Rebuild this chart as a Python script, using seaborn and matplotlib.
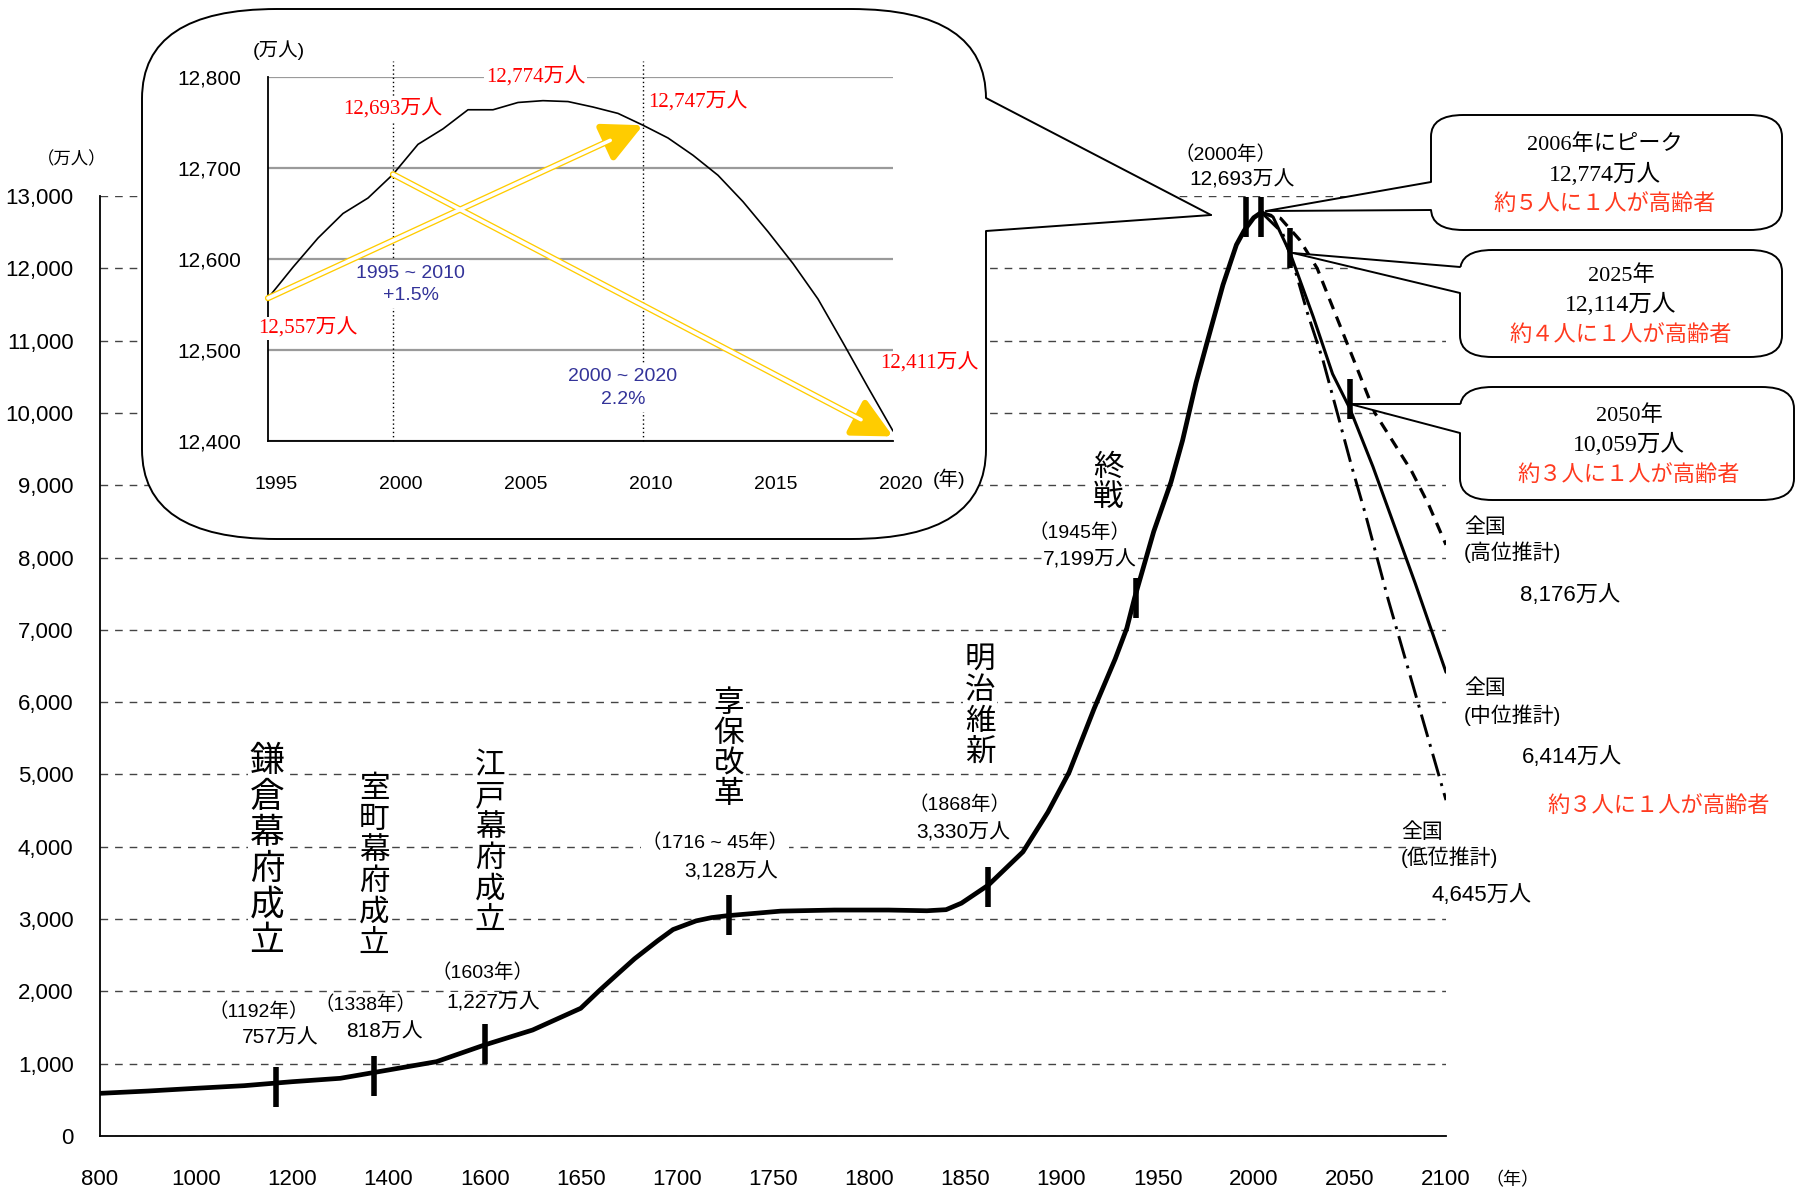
import numpy as np
import pandas as pd
import matplotlib
matplotlib.use("Agg")
import matplotlib.pyplot as plt
import seaborn as sns
from matplotlib import font_manager
from matplotlib.patches import FancyBboxPatch, Polygon
from matplotlib.lines import Line2D
from matplotlib.ticker import FuncFormatter, NullLocator, MultipleLocator
from matplotlib.transforms import ScaledTranslation

# ---------------- data ----------------
tick_years = [800, 1000, 1200, 1400, 1600, 1650, 1700, 1750, 1800, 1850,
              1900, 1950, 2000, 2050, 2100]
y_ticks = list(range(0, 13001, 1000))

hist_years = [800, 900, 1000, 1100, 1200, 1300, 1400, 1500, 1600, 1625, 1650,
              1660, 1670, 1678, 1690, 1698, 1710, 1718, 1726, 1754, 1782, 1810,
              1830, 1840, 1848, 1862, 1880, 1893, 1904, 1917, 1928, 1934, 1938,
              1948, 1957, 1963, 1970, 1976, 1984, 1991, 1995, 2000, 2004]
hist_pop = [590, 622, 660, 696, 751, 798, 913, 1028, 1259, 1466, 1766,
            2019, 2260, 2451, 2700, 2855, 2975, 3020, 3046, 3110, 3125, 3125,
            3115, 3130, 3220, 3470, 3930, 4480, 5030, 5910, 6600, 7022, 7437,
            8360, 9046, 9620, 10417, 11000, 11770, 12325, 12520, 12700, 12774]

high_years = [2004, 2014, 2024, 2033, 2048, 2063, 2082, 2091, 2100]
high_pop = [12774, 12690, 12390, 12000, 11000, 10000, 9200, 8730, 8176]
mid_years = [2004, 2010, 2019, 2031, 2041, 2050, 2062, 2084, 2100]
mid_pop = [12774, 12713, 12205, 11326, 10540, 10060, 9257, 7643, 6414]
low_years = [2004, 2015, 2021, 2028, 2036, 2044, 2051, 2058, 2070, 2083, 2100]
low_pop = [12774, 12488, 12023, 11377, 10731, 9947, 9255, 8610, 7413, 6214, 4645]

marker_years = [1167, 1369, 1600, 1727, 1862, 1939, 1996, 2004, 2019, 2050]
marker_pop = [680, 825, 1272, 3060, 3450, 7437, 12714, 12714, 12277, 10192]

inset_years = list(range(1995, 2021))
inset_pop = [12557, 12591, 12623, 12650, 12667, 12693, 12726, 12743, 12764, 12764,
             12772, 12774, 12773, 12767, 12760, 12747, 12733, 12714, 12692, 12663,
             12630, 12595, 12556, 12508, 12459, 12411]
inset_yticks = [12400, 12500, 12600, 12700, 12800]
inset_xticks = [1995, 2000, 2005, 2010, 2015, 2020]
arrow_up = ((1995, 12557), (2010, 12747))
arrow_down = ((2000, 12693), (2020, 12405))

events = ["鎌倉幕府成立", "室町幕府成立", "江戸幕府成立", "享保改革", "明治維新", "終戦"]
note_years = ["（1192年）", "（1338年）", "（1603年）", "（1716 ~ 45年）", "（1868年）",
              "（1945年）", "（2000年）"]
note_pops = ["757万人", "818万人", "1,227万人", "3,128万人", "3,330万人", "7,199万人",
             "12,693万人"]
callouts = [("2006年にピーク", "12,774万人", "約５人に１人が高齢者"),
            ("2025年", "12,114万人", "約４人に１人が高齢者"),
            ("2050年", "10,059万人", "約３人に１人が高齢者")]
proj_names = ["(高位推計)", "(中位推計)", "(低位推計)"]
proj_ends = ["8,176万人", "6,414万人", "4,645万人"]

# ---------------- style ----------------
sns.set_theme(style="white")
avail = {f.name for f in font_manager.fontManager.ttflist}
NARROW = "Liberation Sans Narrow" if "Liberation Sans Narrow" in avail else "Liberation Sans"
JP = "Noto Sans CJK JP"
SANS_N = [NARROW, JP]
SANS = ["Liberation Sans", JP]
SERIF = ["Liberation Serif", JP]
plt.rcParams["font.family"] = SANS_N
plt.rcParams.update({"text.color": "black", "xtick.color": "black",
                     "ytick.color": "black", "axes.edgecolor": "black",
                     "axes.unicode_minus": False})

W, H = 1797, 1195
fig = plt.figure(figsize=(W / 100, H / 100), dpi=100)
fig.patch.set_facecolor("white")


def fx(x):
    return x / W


def fy(y):
    return 1 - y / H


WHITE = dict(facecolor="white", edgecolor="none", pad=1.0)

# ---------------- main axes ----------------
ax = fig.add_axes([fx(100), fy(1136), (1446 - 100) / W, (1136 - 196) / H])
ax.set_facecolor("white")
ty = np.array(tick_years, float)
ti = np.arange(len(ty), dtype=float)


def fwd(x):
    x = np.asarray(x, float)
    out = np.interp(x, ty, ti)
    out = np.where(x < ty[0], (x - ty[0]) / 200.0, out)
    return np.where(x > ty[-1], ti[-1] + (x - ty[-1]) / 50.0, out)


def inv(u):
    u = np.asarray(u, float)
    out = np.interp(u, ti, ty)
    out = np.where(u < 0, ty[0] + u * 200.0, out)
    return np.where(u > ti[-1], ty[-1] + (u - ti[-1]) * 50.0, out)


ax.set_xscale("function", functions=(fwd, inv))

sns.lineplot(x=hist_years, y=hist_pop, ax=ax, color="black", linewidth=3.4,
             zorder=4, sort=False)
ax.lines[-1].set_solid_joinstyle("round")
sns.lineplot(x=mid_years, y=mid_pop, ax=ax, color="black", linewidth=2.2,
             zorder=4, sort=False)
sns.lineplot(x=high_years, y=high_pop, ax=ax, color="black", linewidth=2.3,
             zorder=4, sort=False)
ax.lines[-1].set_linestyle((0, (3.5, 2.5)))
sns.lineplot(x=low_years, y=low_pop, ax=ax, color="black", linewidth=2.1,
             zorder=4, sort=False)
ax.lines[-1].set_linestyle((0, (8, 2.5, 1, 2.5)))
ax.plot(marker_years, marker_pop, linestyle="none", marker="|", markersize=29,
        markeredgewidth=4, color="black", zorder=5)

ax.set_xlim(800, 2100)
ax.set_ylim(0, 13000)
ax.set_xticks(tick_years)
ax.set_xticklabels([str(t) for t in tick_years])
ax.xaxis.set_minor_locator(NullLocator())
ax.set_yticks(y_ticks)
ax.yaxis.set_major_formatter(FuncFormatter(lambda v, p: f"{int(v):,}"))
ax.tick_params(axis="x", direction="in", length=7, width=1.2, pad=24, labelsize=16)
ax.tick_params(axis="y", direction="out", length=4, width=1.2, pad=15, labelsize=16)
ax.set_xlabel("")
ax.set_ylabel("")
for s in ("top", "right"):
    ax.spines[s].set_visible(False)
for s in ("left", "bottom"):
    ax.spines[s].set_color("black")
    ax.spines[s].set_linewidth(1.3)
ax.yaxis.grid(True, color="#444444", linewidth=1.0, linestyle=(0, (5.5, 5)))
ax.xaxis.grid(False)
ax.set_axisbelow(True)

fig.text(fx(72), fy(159), "（万人）", fontsize=12.5, family=[JP], ha="center", va="center")
fig.text(fx(1512), fy(1180), "（年）", fontsize=13, family=[JP], ha="center", va="center")

# vertical event labels
ev_layout = [(267, 743, 36, 25), (374, 773, 31, 22), (490, 750, 31, 22),
             (729, 688, 30.5, 22), (980, 644, 31, 22), (1108, 452, 30, 22)]
for name, (xc, ytop, pitch, size) in zip(events, ev_layout):
    for i, ch in enumerate(name):
        fig.text(fx(xc), fy(ytop + pitch * (i + 0.5)), ch, fontsize=size,
                 family=[JP], ha="center", va="center", bbox=WHITE, zorder=3)

note_layout = [((259, 1012), (280, 1038)), ((366, 1005), (384, 1032)),
               ((482, 973), (493, 1003)), ((715, 843), (731, 872)),
               ((959, 805), (963, 833)), ((1080, 533), (1090, 560)),
               ((1225, 155), (1242, 180))]
for ny, npop, ((x1, y1), (x2, y2)) in zip(note_years, note_pops, note_layout):
    fig.text(fx(x1), fy(y1), ny, fontsize=14, family=SANS_N, ha="center",
             va="center", bbox=WHITE, zorder=3)
    fig.text(fx(x2), fy(y2), npop, fontsize=15, family=SANS_N, ha="center",
             va="center", bbox=WHITE, zorder=3)

# projection end labels
proj_layout = [((1464, 527), (1464, 552), (1520, 595)),
               ((1464, 688), (1464, 715), (1522, 758)),
               ((1401, 832), (1401, 857), (1431, 895))]
for nm, end, (p1, p2, p3) in zip(proj_names, proj_ends, proj_layout):
    fig.text(fx(p1[0]), fy(p1[1]), "全国", fontsize=15, family=[JP], ha="left", va="center")
    fig.text(fx(p2[0]), fy(p2[1]), nm, fontsize=15, family=SANS_N, ha="left", va="center")
    fig.text(fx(p3[0]), fy(p3[1]), end, fontsize=16, family=SANS_N, ha="left", va="center")
ORANGE = "#FF3A1F"
fig.text(fx(1547), fy(805), "約３人に１人が高齢者", fontsize=16, family=[JP], color=ORANGE,
         ha="left", va="center")


# ---------------- callout bubbles ----------------
def bubble(x0, y0, x1, y1, r, tip, base1, base2, side, z=2):
    box = FancyBboxPatch((fx(x0), fy(y1)), fx(x1) - fx(x0), fy(y0) - fy(y1),
                         boxstyle=f"round,pad=0,rounding_size={r}",
                         transform=fig.transFigure, facecolor="white",
                         edgecolor="black", linewidth=1.4, zorder=z)
    fig.add_artist(box)
    d = -5 if side == "right" else 5
    pts = [tip, base1, (base1[0] + d, base1[1]), (base2[0] + d, base2[1]), base2]
    poly = Polygon([(fx(a), fy(b)) for a, b in pts], closed=True,
                   transform=fig.transFigure, facecolor="white",
                   edgecolor="none", zorder=z + 0.1)
    fig.add_artist(poly)
    for b in (base1, base2):
        fig.add_artist(Line2D([fx(tip[0]), fx(b[0])], [fy(tip[1]), fy(b[1])],
                              transform=fig.transFigure, color="black",
                              linewidth=1.4, zorder=z + 0.2))


bubble(142, 9, 986, 539, 0.075, (1211, 215), (986, 98), (986, 231), "right")
bubble(1431, 115, 1782, 230, 0.018, (1266, 211), (1431, 182), (1431, 210), "left")
bubble(1460, 250, 1782, 357, 0.018, (1293, 253), (1460, 267), (1460, 293), "left")
bubble(1460, 387, 1794, 500, 0.018, (1350, 404), (1460, 404), (1460, 433), "left")

co_layout = [(1605, (145, 174, 203)), (1621, (276, 304, 334)), (1629, (416, 444, 474))]
for (l1, l2, l3), (xc, (y1, y2, y3)) in zip(callouts, co_layout):
    fig.text(fx(xc), fy(y1), l1, fontsize=16, family=SERIF, ha="center", va="center", zorder=4)
    fig.text(fx(xc), fy(y2), l2, fontsize=17, family=SERIF, ha="center", va="center", zorder=4)
    fig.text(fx(xc), fy(y3), l3, fontsize=16, family=[JP], color=ORANGE,
             ha="center", va="center", zorder=4)

# ---------------- inset ----------------
axi = fig.add_axes([fx(268), fy(441), (893 - 268) / W, (441 - 77) / H], zorder=3)
axi.set_facecolor("white")
sns.lineplot(x=inset_years, y=inset_pop, ax=axi, color="black", linewidth=1.2, zorder=3)
axi.set_xlim(1995, 2020)
axi.set_ylim(12400, 12800)
axi.set_xticks(inset_xticks)
axi.set_xticklabels([str(t) for t in inset_xticks])
axi.xaxis.set_minor_locator(MultipleLocator(1))
axi.set_yticks(inset_yticks)
axi.yaxis.set_major_formatter(FuncFormatter(lambda v, p: f"{int(v):,}"))
axi.tick_params(axis="x", which="both", direction="in", length=7, width=1.0,
                pad=25, labelsize=14)
axi.tick_params(axis="y", direction="in", length=4, width=1.0, pad=19, labelsize=15)
for lab in axi.get_xticklabels() + axi.get_yticklabels():
    lab.set_family(SANS)
off = ScaledTranslation(8 / 100, 0, fig.dpi_scale_trans)
for t in axi.xaxis.get_major_ticks():
    t.label1.set_transform(t.label1.get_transform() + off)
axi.set_xlabel("")
axi.set_ylabel("")
for s in ("top", "right"):
    axi.spines[s].set_visible(False)
for s in ("left", "bottom"):
    axi.spines[s].set_color("black")
    axi.spines[s].set_linewidth(1.3)
axi.yaxis.grid(True, color="#9a9a9a", linewidth=1.6, linestyle="-")
axi.xaxis.grid(False)
axi.set_axisbelow(True)
for xv in (2000, 2010):
    axi.plot([xv, xv], [12400, 12818], color="black", linewidth=1.0,
             linestyle=(0, (1, 2)), clip_on=False, zorder=2)

GOLD = "#FFCC00"
for (x0, y0), (x1, y1) in (arrow_up, arrow_down):
    axi.annotate("", xy=(x1, y1), xytext=(x0, y0), zorder=6,
                 arrowprops=dict(arrowstyle="-|>,head_length=0.6,head_width=0.3",
                                 mutation_scale=40, color=GOLD, linewidth=4.5,
                                 shrinkA=0, shrinkB=0))
    axi.annotate("", xy=(x1, y1), xytext=(x0, y0), zorder=6.1,
                 arrowprops=dict(arrowstyle="-", color="white", linewidth=2.6,
                                 shrinkA=0, shrinkB=26))

RED = "#FF0000"
axi.text(2005.7, 12800, "12,774万人", color=RED, family=SERIF, fontsize=15,
         ha="center", va="center", bbox=WHITE, zorder=4)
axi.text(2000, 12764, "12,693万人", color=RED, family=SERIF, fontsize=15,
         ha="center", va="center", bbox=WHITE, zorder=4)
axi.text(2010.2, 12772, "12,747万人", color=RED, family=SERIF, fontsize=15,
         ha="left", va="center", bbox=WHITE, zorder=4)
axi.text(1994.6, 12524, "12,557万人", color=RED, family=SERIF, fontsize=15,
         ha="left", va="center", bbox=WHITE, zorder=4)
axi.text(2019.5, 12485, "12,411万人", color=RED, family=SERIF, fontsize=15,
         ha="left", va="center", bbox=WHITE, zorder=4)
BLUE = "#333399"
axi.text(2000.7, 12572, "1995 ~ 2010\n+1.5%", color=BLUE, family=SANS, fontsize=14,
         ha="center", va="center", linespacing=1.45,
         bbox=dict(facecolor="white", edgecolor="none", pad=3), zorder=4)
axi.text(2009.2, 12458, "2000 ~ 2020\n2.2%", color=BLUE, family=SANS, fontsize=14,
         ha="center", va="center", linespacing=1.45,
         bbox=dict(facecolor="white", edgecolor="none", pad=3), zorder=4)
fig.text(fx(279), fy(50), "(万人)", fontsize=14, family=SANS, ha="center", va="center", zorder=4)
fig.text(fx(949), fy(479), "(年)", fontsize=14, family=SANS, ha="center", va="center", zorder=4)

fig.savefig("out.png", dpi=100, facecolor="white")
